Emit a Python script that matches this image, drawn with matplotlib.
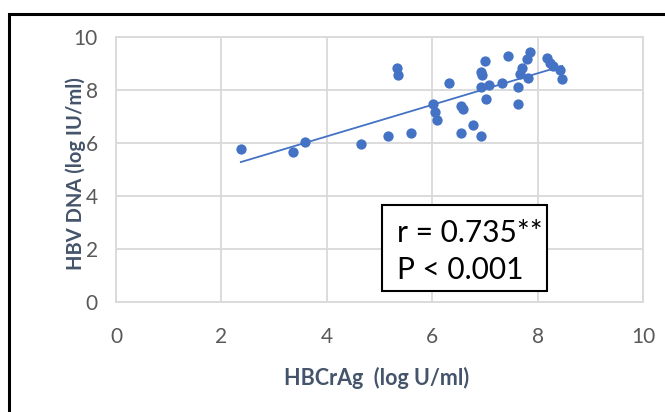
import numpy as np
import matplotlib
matplotlib.use("Agg")
import matplotlib.pyplot as plt
from matplotlib.patches import Rectangle

plt.rcParams['font.family'] = ['Lato', 'DejaVu Sans']

# HBcrAg (log U/ml) vs HBV DNA (log IU/ml)
hbcrag = [2.37, 3.36, 3.59, 4.65, 5.17, 5.60, 5.33, 5.36, 6.01, 6.05,
          6.10, 6.31, 6.54, 6.78, 6.92, 6.55, 6.59, 7.01, 6.93, 6.95,
          6.93, 7.07, 7.03, 7.32, 7.44, 7.86, 7.80, 7.70, 7.67, 7.82,
          7.63, 7.63, 8.17, 8.23, 8.30, 8.43, 8.47]
hbv_dna = [5.76, 5.66, 6.05, 5.96, 6.26, 6.37, 8.82, 8.57, 7.47, 7.16,
           6.87, 8.28, 6.39, 6.67, 6.26, 7.40, 7.27, 9.09, 8.69, 8.58,
           8.10, 8.19, 7.67, 8.28, 9.29, 9.42, 9.16, 8.85, 8.60, 8.44,
           8.10, 7.46, 9.20, 9.01, 8.91, 8.75, 8.40]
ticks = [0, 2, 4, 6, 8, 10]
stat_lines = ["r = 0.735**", "P < 0.001"]

x = np.array(hbcrag)
y = np.array(hbv_dna)

fig = plt.figure(figsize=(6.65, 4.12), dpi=100)
ax = fig.add_axes([0.1744, 0.267, 0.7925, 0.643])

blue = '#4472C4'
grid = '#D9D9D9'
ax.scatter(x, y, s=55, color=blue, zorder=3, linewidths=0)

# linear trendline over the data range
slope, intercept = np.polyfit(x, y, 1)
xs = np.array([x.min(), x.max()])
ax.plot(xs, slope * xs + intercept, color=blue, lw=1.3, zorder=2)

ax.set_xlim(0, 10)
ax.set_ylim(0, 10)
ax.set_xticks(ticks)
ax.set_yticks(ticks)
ax.grid(True, color=grid, lw=1.3, zorder=0)
ax.set_axisbelow(True)
for s in ax.spines.values():
    s.set_color(grid)
    s.set_linewidth(1.3)
ax.tick_params(length=0, labelsize=15, labelcolor='#595959')
ax.tick_params(axis='x', pad=18)
ax.tick_params(axis='y', pad=13)

ax.set_xlabel("HBCrAg  (log U/ml)", fontsize=15.5, fontweight='bold',
              color='#44546A', va='center')
ax.set_ylabel("HBV DNA (log IU/ml)", fontsize=14.5, fontweight='bold',
              color='#44546A', va='center')
ax.xaxis.set_label_coords(0.495, -0.287)
ax.yaxis.set_label_coords(-0.076, 0.485)

# statistics box
ax.add_patch(Rectangle((5.05, 0.42), 3.13, 3.24, facecolor='white',
                       edgecolor='black', lw=1.5, zorder=4))
ax.text(5.33, 2.6, stat_lines[0], fontsize=21.5, va='center', ha='left',
        color='black', zorder=5)
ax.text(5.33, 1.21, stat_lines[1], fontsize=21.5, va='center', ha='left',
        color='black', zorder=5)

# outer frame
fig.patches.append(Rectangle((0.0135, -0.05), 1.1, 1.016,
                             transform=fig.transFigure, fill=False,
                             edgecolor='black', lw=2.2))

fig.savefig("out.png", dpi=100)
